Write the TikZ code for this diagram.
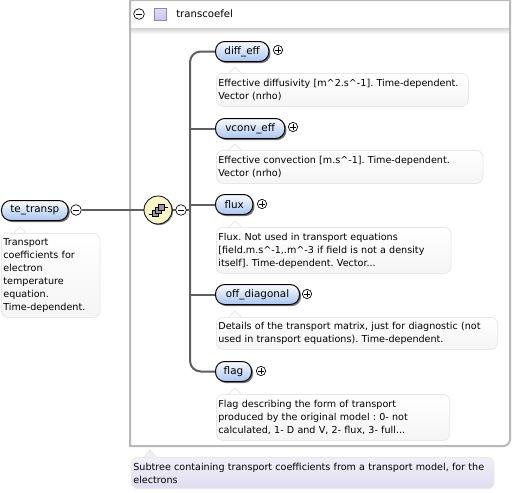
\documentclass[tikz,border=0pt]{standalone}
\usepackage{fontspec}
\setmainfont{DejaVu Sans}
\usepackage{tikz}
\usetikzlibrary{shadows}
\definecolor{pilltop}{RGB}{250,252,255}
\definecolor{pillbot}{RGB}{170,197,240}
\definecolor{boxline}{RGB}{185,185,185}
\definecolor{wire}{RGB}{95,95,95}
\definecolor{seqfill}{RGB}{250,246,200}
\definecolor{notelav}{RGB}{224,220,240}
\definecolor{noteline}{RGB}{232,232,232}
\definecolor{iconline}{RGB}{150,125,200}
\definecolor{iconfill}{RGB}{205,195,235}
\begin{document}
\begin{tikzpicture}[x=0.75pt,y=-0.75pt,
    pill/.style={draw=black,line width=0.75pt,rounded corners=7pt,top color=pilltop,bottom color=pillbot,minimum height=15pt,inner sep=0pt,anchor=north west,font=\fontsize{7.8}{9}\selectfont,drop shadow={shadow xshift=1.2pt,shadow yshift=-1.2pt,opacity=.55,fill=black}},
    note/.style={draw=noteline,line width=0.6pt,rounded corners=5pt,top color=white,bottom color=black!4,anchor=north west,align=left,inner xsep=1.5pt,inner ysep=0pt,font=\frenchspacing\fontsize{7.2}{9.75}\selectfont},
    notetip/.style={draw=noteline,line width=0.6pt,fill=white},
    expand/.style={draw=black,circle,fill=white,line width=0.5pt,minimum size=7pt,inner sep=0pt,path picture={\draw[line width=0.5pt] ([xshift=-2pt]path picture bounding box.center)--([xshift=2pt]path picture bounding box.center) ([yshift=-2pt]path picture bounding box.center)--([yshift=2pt]path picture bounding box.center);}},
    collapse/.style={draw=black,circle,fill=white,line width=0.5pt,minimum size=8pt,inner sep=0pt,path picture={\draw[line width=0.5pt] ([xshift=-2.4pt]path picture bounding box.center)--([xshift=2.4pt]path picture bounding box.center);}},
    wireline/.style={draw=wire,line width=1.5pt}]
    \useasboundingbox (0,0) rectangle (512,493);
    % outer box
    \shade[top color=black!18,bottom color=white] (131,28) rectangle (509,34);
    \draw[boxline,line width=1.5pt](130,0)--(130,446)[rounded corners=5pt]--(510,446)[sharp corners]--(510,0)--cycle;
    \node[collapse](boxminus)at (139,14){};
    \node[draw=iconline,line width=0.75pt,top color=iconfill!60,bottom color=iconfill,minimum size=9pt,inner sep=0pt](boxicon)at (160,14){};
    \node[anchor=west,inner sep=0pt,font=\fontsize{7.6}{9}\selectfont](boxname)at (176,14){transcoefel};
    % left element
    \node[pill,minimum width=50pt](te)at (1,200){te\_transp};
    \node[collapse](teminus)at (76,210){};
    \node[note,text width=71pt,minimum height=63pt](tenote)at (1,233){Transport\\coefficients for\\electron\\temperature\\equation.\\Time-dependent.};
    \draw[notetip](14,233)--(20,227)--(26,233);
    % sequence
    \coordinate(trunk)at (190,210);
    \node[pill,minimum width=40pt](diff)at (215,41){diff\_eff};
    \node[pill,minimum width=52pt](vconv)at (215,118){vconv\_eff};
    \node[pill,minimum width=28pt](flux)at (215,194){flux};
    \node[pill,minimum width=63pt](off)at (215,284){off\_diagonal};
    \node[pill,minimum width=27pt](flag)at (215,361){flag};
    \draw[wireline](teminus)--(trunk);
    \draw[wireline,rounded corners=8pt](diff.west)-|(trunk)|-(flag.west);
    \draw[wireline](trunk|-vconv.west)--(vconv.west);
    \draw[wireline](trunk|-flux.west)--(flux.west);
    \draw[wireline](trunk|-off.west)--(off.west);
    \node[draw=black,line width=0.6pt,circle,fill=seqfill,minimum size=21pt,inner sep=0pt,drop shadow={shadow xshift=0.8pt,shadow yshift=-0.8pt,opacity=.5,fill=black}](seq)at (158,210){};
    \draw[line width=0.6pt](149,214)--(153,214)--(153,210)--(158,210)--(158,207)--(168,207);
    \draw[fill=black!40,line width=0.5pt](152,210)rectangle(158,216);
    \draw[fill=black!40,line width=0.5pt](155,207)rectangle(161,213);
    \draw[fill=black!40,line width=0.5pt](158,204)rectangle(164,210);
    \node[collapse](seqminus)at (181,210){};
    % plus signs
    \node[expand](diffplus)at (278,50){};
    \node[expand](vconvplus)at (293,127){};
    \node[expand](fluxplus)at (262,204){};
    \node[expand](offplus)at (307,294){};
    \node[expand](flagplus)at (261,371){};
    % notes
    \node[note,text width=186pt,minimum height=24.75pt](diffnote)at (216,73){Effective diffusivity [m\textasciicircum 2.s\textasciicircum-1]. Time-dependent.\\Vector (nrho)};
    \draw[notetip](229,73)--(235,67)--(241,73);
    \node[note,text width=197pt,minimum height=24.75pt](vconvnote)at (216,150){Effective convection [m.s\textasciicircum-1]. Time-dependent.\\Vector (nrho)};
    \draw[notetip](229,150)--(235,144)--(241,150);
    \node[note,text width=173pt,minimum height=34.5pt](fluxnote)at (216,227){Flux. Not used in transport equations\\{}[field.m.s\textasciicircum-1,.m\textasciicircum-3 if field is not a density\\itself]. Time-dependent. Vector...};
    \draw[notetip](229,227)--(235,221)--(241,227);
    \node[note,text width=208pt,minimum height=24pt](offnote)at (216,317){Details of the transport matrix, just for diagnostic (not\\used in transport equations). Time-dependent.};
    \draw[notetip](229,317)--(235,311)--(241,317);
    \node[note,text width=172pt,minimum height=34.5pt](flagnote)at (216,394){Flag describing the form of transport\\produced by the original model : 0- not\\calculated, 1- D and V, 2- flux, 3- full...};
    \draw[notetip](229,394)--(235,388)--(241,394);
    % box note
    \node[note,top color=notelav!45,bottom color=notelav,text width=269pt,minimum height=23.5pt](boxnote)at (131,457){Subtree containing transport coefficients from a transport model, for the\\electrons};
    \draw[notetip,fill=notelav!45](144,457)--(150,450)--(156,457);
\end{tikzpicture}
\end{document}
